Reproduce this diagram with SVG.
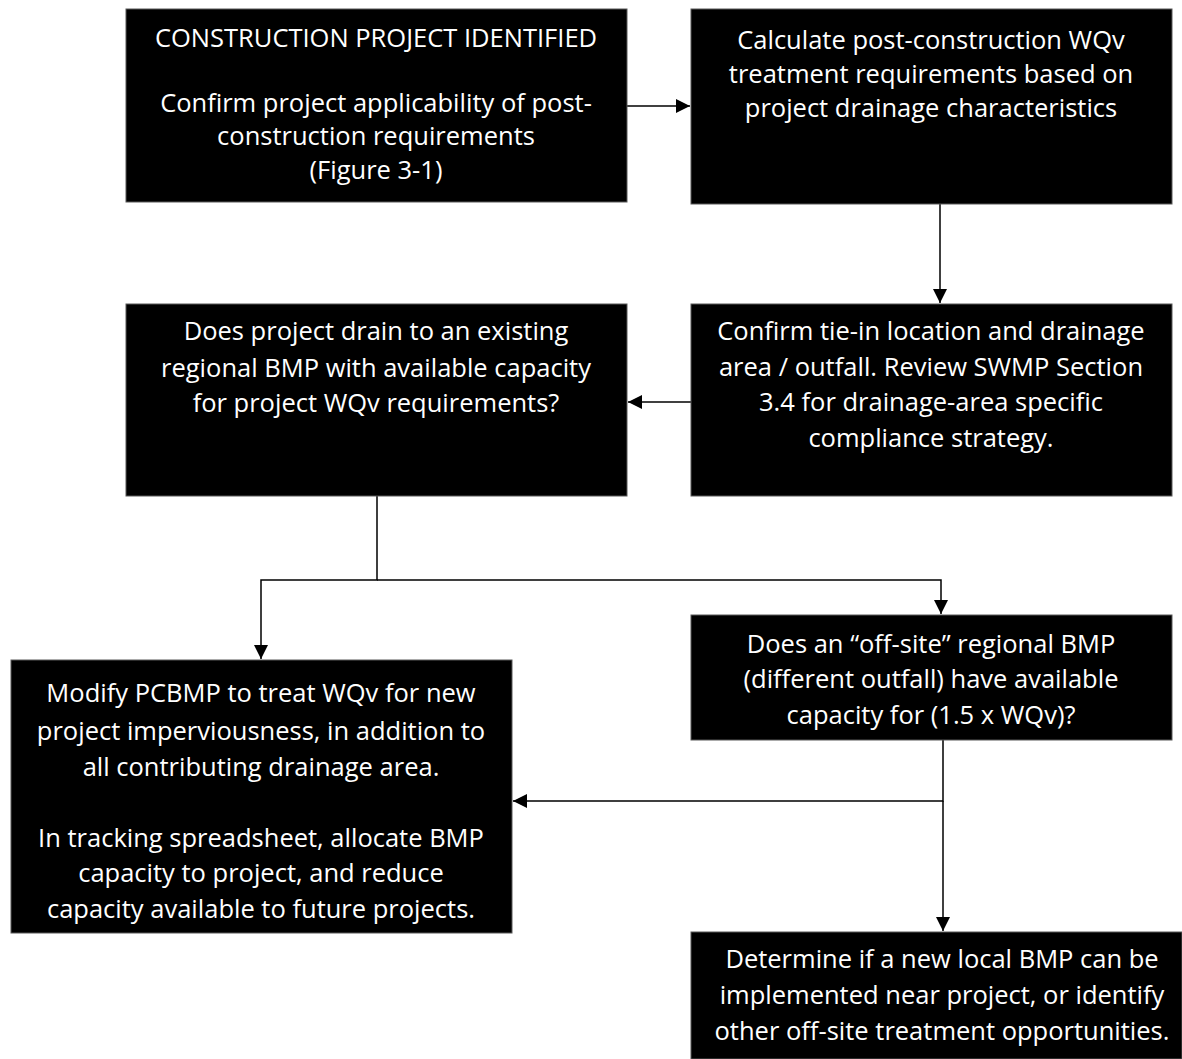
<svg xmlns="http://www.w3.org/2000/svg" width="1182" height="1059" viewBox="0 0 1182 1059">
<style>
.box{fill:#000;stroke:#595959;stroke-width:1}
.t{font-family:"Open Sans","Noto Sans",sans-serif;font-size:25.5px;fill:#fff;text-anchor:middle}
.c{fill:none;stroke:#000;stroke-width:1.5}
</style>
<defs>
<marker id="ah" markerWidth="16" markerHeight="16" refX="14" refY="7" orient="auto" markerUnits="userSpaceOnUse">
<path d="M0,0 L14,7 L0,14 Z" fill="#000"/>
</marker>
</defs>
<rect width="1182" height="1059" fill="#fff"/>
<g id="connectors">
<line class="c" x1="627" y1="106" x2="690" y2="106" marker-end="url(#ah)"/>
<line class="c" x1="940" y1="204" x2="940" y2="303" marker-end="url(#ah)"/>
<line class="c" x1="691" y1="402" x2="628" y2="402" marker-end="url(#ah)"/>
<polyline class="c" points="377,496 377,580 261,580 261,659" marker-end="url(#ah)"/>
<polyline class="c" points="377,580 941,580 941,614" marker-end="url(#ah)"/>
<polyline class="c" points="943,740 943,801 513,801" marker-end="url(#ah)"/>
<line class="c" x1="943" y1="801" x2="943" y2="931" marker-end="url(#ah)"/>
</g>
<g id="n1">
<rect class="box" x="126" y="9" width="501" height="193"/>
<text class="t" x="376" y="47">CONSTRUCTION PROJECT IDENTIFIED</text>
<text class="t" x="376" y="112">Confirm project applicability of post-</text>
<text class="t" x="376" y="145">construction requirements</text>
<text class="t" x="376" y="179">(Figure 3-1)</text>
</g>
<g id="n2">
<rect class="box" x="691" y="9" width="481" height="195"/>
<text class="t" x="931" y="49">Calculate post-construction WQv</text>
<text class="t" x="931" y="83">treatment requirements based on</text>
<text class="t" x="931" y="117">project drainage characteristics</text>
</g>
<g id="n3">
<rect class="box" x="126" y="304" width="501" height="192"/>
<text class="t" x="376" y="340">Does project drain to an existing</text>
<text class="t" x="376" y="377">regional BMP with available capacity</text>
<text class="t" x="376" y="412">for project WQv requirements?</text>
</g>
<g id="n4">
<rect class="box" x="691" y="304" width="481" height="192"/>
<text class="t" x="931" y="340">Confirm tie-in location and drainage</text>
<text class="t" x="931" y="376">area / outfall. Review SWMP Section</text>
<text class="t" x="931" y="411">3.4 for drainage-area specific</text>
<text class="t" x="931" y="447">compliance strategy.</text>
</g>
<g id="n5">
<rect class="box" x="11" y="660" width="501" height="273"/>
<text class="t" x="261" y="702">Modify PCBMP to treat WQv for new</text>
<text class="t" x="261" y="740">project imperviousness,  in addition to</text>
<text class="t" x="261" y="776">all contributing drainage area.</text>
<text class="t" x="261" y="847">In tracking spreadsheet, allocate BMP</text>
<text class="t" x="261" y="882">capacity to project, and reduce</text>
<text class="t" x="261" y="918">capacity available to future projects.</text>
</g>
<g id="n6">
<rect class="box" x="691" y="615" width="481" height="125"/>
<text class="t" x="931" y="653">Does an “off-site” regional BMP</text>
<text class="t" x="931" y="688">(different outfall) have available</text>
<text class="t" x="931" y="724">capacity for (1.5 x WQv)?</text>
</g>
<g id="n7">
<rect class="box" x="691" y="932" width="491" height="127"/>
<text class="t" x="942" y="968">Determine if a new local BMP can be</text>
<text class="t" x="942" y="1004">implemented near project, or identify</text>
<text class="t" x="942" y="1040">other off-site treatment opportunities.</text>
</g>
</svg>
